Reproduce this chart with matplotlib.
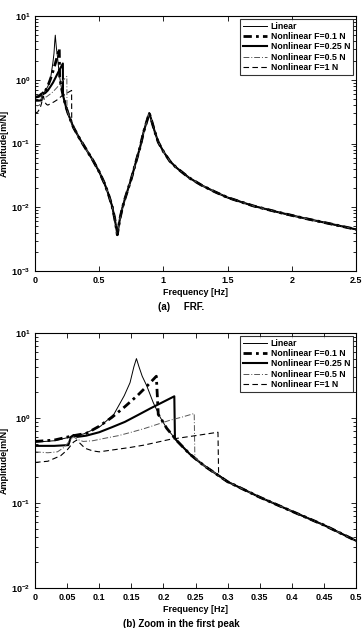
import math
import matplotlib
matplotlib.use("Agg")
import matplotlib.pyplot as plt
from matplotlib.ticker import FixedLocator, FuncFormatter, LogLocator, NullFormatter

plt.rcParams['font.family'] = ['Liberation Sans', 'DejaVu Sans']
plt.rcParams['mathtext.fontset'] = 'custom'
plt.rcParams['mathtext.rm'] = 'Liberation Sans'
plt.rcParams['mathtext.bf'] = 'Liberation Sans:bold'

# ---------------- data ----------------
lin_freq = [0.0, 0.03, 0.06, 0.076, 0.102, 0.123, 0.139, 0.148, 0.154, 0.158,
            0.162, 0.167, 0.174, 0.184, 0.195, 0.205, 0.221, 0.241, 0.257, 0.267,
            0.30, 0.35, 0.40, 0.45, 0.50, 0.54, 0.57, 0.60, 0.62, 0.635, 0.641,
            0.648, 0.66, 0.68, 0.70, 0.75, 0.79, 0.82, 0.845, 0.87, 0.89, 0.905,
            0.93, 0.96, 1.0, 1.05, 1.1, 1.2, 1.3, 1.4, 1.5, 1.7, 1.9, 2.1, 2.3, 2.5]
lin_amp = [0.52, 0.54, 0.61, 0.65, 0.80, 1.11, 1.83, 2.6, 4.0, 5.0,
           4.0, 3.1, 2.4, 1.53, 1.02, 0.76, 0.54, 0.377, 0.30, 0.263,
           0.178, 0.117, 0.080, 0.055, 0.036, 0.024, 0.0165, 0.0105, 0.0068, 0.0045, 0.0037,
           0.0045, 0.0064, 0.0097, 0.0135, 0.028, 0.055, 0.09, 0.15, 0.22, 0.30, 0.24,
           0.16, 0.105, 0.075, 0.053, 0.042, 0.029, 0.022, 0.0175, 0.0142, 0.0105, 0.0083,
           0.0067, 0.0055, 0.0045]

# nonlinear branches before they jump down onto the linear curve
f01_freq = [0.0, 0.03, 0.06, 0.08, 0.10, 0.12, 0.14, 0.16, 0.175, 0.189, 0.192]
f01_amp = [0.53, 0.55, 0.62, 0.66, 0.80, 1.02, 1.36, 1.85, 2.4, 3.1, 1.10]

f025_freq = [0.0, 0.03, 0.052, 0.056, 0.060, 0.066, 0.08, 0.10, 0.12, 0.14, 0.16,
             0.18, 0.20, 0.217, 0.218]
f025_amp = [0.47, 0.47, 0.48, 0.60, 0.63, 0.60, 0.62, 0.68, 0.78, 0.90, 1.08,
            1.30, 1.55, 1.80, 0.57]

f05_freq = [0.0, 0.02, 0.035, 0.045, 0.055, 0.060, 0.066, 0.075, 0.09, 0.11, 0.13,
            0.15, 0.17, 0.19, 0.21, 0.23, 0.248, 0.249]
f05_amp = [0.40, 0.39, 0.40, 0.45, 0.55, 0.60, 0.56, 0.53, 0.54, 0.58, 0.62,
           0.68, 0.75, 0.84, 0.94, 1.03, 1.13, 0.345]

f1_freq = [0.0, 0.02, 0.04, 0.05, 0.06, 0.065, 0.078, 0.09, 0.10, 0.12, 0.148,
           0.17, 0.21, 0.25, 0.285, 0.286]
f1_amp = [0.30, 0.31, 0.36, 0.42, 0.52, 0.55, 0.44, 0.41, 0.40, 0.42, 0.45,
          0.48, 0.56, 0.62, 0.68, 0.215]

labels = ['Linear', 'Nonlinear F=0.1 N', 'Nonlinear F=0.25 N',
          'Nonlinear F=0.5 N', 'Nonlinear F=1 N']
ticks_a = [0, 0.5, 1, 1.5, 2, 2.5]
ticks_b = [0, 0.05, 0.1, 0.15, 0.2, 0.25, 0.3, 0.35, 0.4, 0.45, 0.5]


def join_linear(fr, am):
    last = fr[-1]
    ff = list(fr) + [f for f in lin_freq if f > last]
    aa = list(am) + [a for f, a in zip(lin_freq, lin_amp) if f > last]
    return ff, aa


series = [
    (lin_freq, lin_amp, dict(color='black', lw=0.7, ls='-')),
    (*join_linear(f01_freq, f01_amp), dict(color='black', lw=2.0, ls=(0, (3, 1.5, 1, 1.5)))),
    (*join_linear(f025_freq, f025_amp), dict(color='black', lw=1.5, ls='-')),
    (*join_linear(f05_freq, f05_amp), dict(color='#555555', lw=0.7, ls=(0, (6, 2, 1, 2)))),
    (*join_linear(f1_freq, f1_amp), dict(color='black', lw=0.8, ls=(0, (5, 3)))),
]

fig = plt.figure(figsize=(3.63, 6.28), dpi=100)
ax_a = fig.add_axes([35 / 363, 1 - 271 / 628, 321 / 363, 255 / 628])
ax_b = fig.add_axes([35 / 363, 1 - 588 / 628, 321 / 363, 255 / 628])

logfmt = FuncFormatter(lambda v, p: r'$\mathbf{10^{%d}}$' % round(math.log10(v)))

for ax, xmax, ymin, ticks in [(ax_a, 2.5, 1e-3, ticks_a), (ax_b, 0.5, 1e-2, ticks_b)]:
    for fr, am, st in series:
        ax.plot(fr, am, **st)
    ax.set_yscale('log')
    ax.set_xlim(0, xmax)
    ax.set_ylim(ymin, 10)
    ax.xaxis.set_major_locator(FixedLocator(ticks))
    ax.xaxis.set_major_formatter(FuncFormatter(lambda v, p: ('%g' % v)))
    ax.yaxis.set_major_locator(LogLocator(base=10, numticks=10))
    ax.yaxis.set_minor_locator(LogLocator(base=10, subs=range(2, 10), numticks=10))
    ax.yaxis.set_minor_formatter(NullFormatter())
    ax.yaxis.set_major_formatter(logfmt)
    ax.tick_params(which='both', direction='in', top=True, right=True, labelsize=6.5, width=0.6)
    ax.tick_params(which='major', length=3.5)
    ax.tick_params(which='minor', length=2)
    for lab in ax.get_xticklabels():
        lab.set_fontweight('bold')
    for s in ax.spines.values():
        s.set_linewidth(0.8)
    ax.set_xlabel('Frequency [Hz]', fontsize=6.5, fontweight='bold', labelpad=2)
    ax.set_ylabel('Amplitude[m/N]', fontsize=6.5, fontweight='bold')
    ax.yaxis.set_label_coords(-26 / 321, 0.5)
    leg = ax.legend(labels, loc='upper right', fontsize=6.3, frameon=True, fancybox=False,
                    edgecolor='black', borderpad=0.3, labelspacing=0.15, handlelength=2.8,
                    handletextpad=0.4, borderaxespad=0.35)
    for t in leg.get_texts():
        t.set_fontweight('bold')
    leg.get_frame().set_linewidth(0.8)

fig.text(0.5, 1 - 307 / 628, '(a)     FRF.', ha='center', va='center', fontsize=7, fontweight='bold')
fig.text(0.5, 1 - 624 / 628, '(b) Zoom in the first peak', ha='center', va='center', fontsize=7, fontweight='bold')

fig.savefig('out.png', dpi=100)
